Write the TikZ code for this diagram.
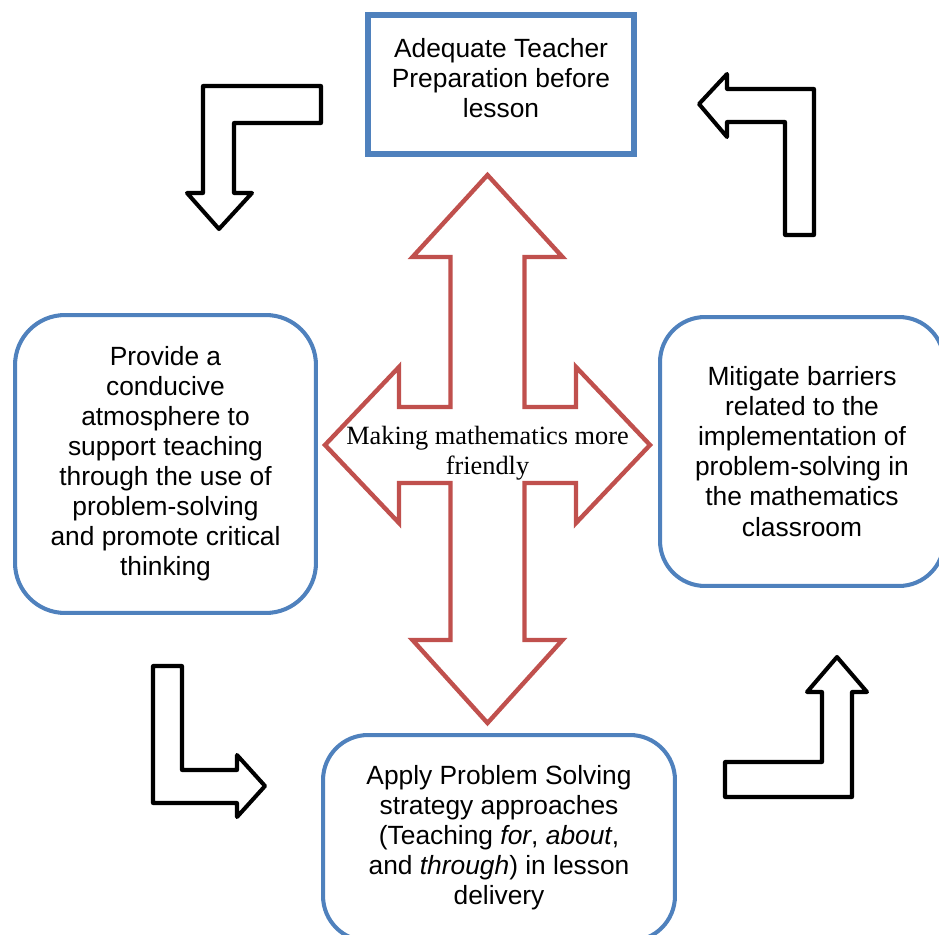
\documentclass[tikz,border=0pt]{standalone}
\usepackage{fontspec}
\setmainfont{Liberation Sans}
\newfontfamily\serifface{Liberation Serif}
\definecolor{boxblue}{RGB}{79,129,189}
\definecolor{crossred}{RGB}{192,80,77}

\begin{document}
\begin{tikzpicture}[x=0.02cm, y=-0.02cm,
  every node/.style={font={\fontsize{15}{17.1}\selectfont}, align=center, inner sep=0pt},
  goalbox/.style={draw=boxblue, line width=3.4pt, minimum width=5.32cm, minimum height=2.78cm, text depth=0.28cm},
  stagebox/.style={draw=boxblue, line width=2.3pt, rounded corners=0.9cm},
  turnarrow/.style={draw=black, line width=2.3pt, line join=round, fill=white},
  crossarrow/.style={draw=crossred, line width=2.5pt, line join=miter, fill=white}]
  \useasboundingbox (0,0) rectangle (939,935);
  \clip (0,0) rectangle (939,935);

  % the four stages
  \node[goalbox] (prep) at (501,84.5) {Adequate Teacher\\Preparation before\\lesson};
  \node[stagebox, minimum width=6.02cm, minimum height=5.96cm, rounded corners=1cm] (climate) at (165.5,464)
    {Provide a\\conducive\\atmosphere to\\support teaching\\through the use of\\problem-solving\\and promote critical\\thinking};
  \node[stagebox, minimum width=5.68cm, minimum height=5.38cm] (barriers) at (802,451.5)
    {Mitigate barriers\\related to the\\implementation of\\problem-solving in\\the mathematics\\classroom};
  \node[stagebox, minimum width=7.04cm, minimum height=4.12cm] (apply) at (499,838)
    {Apply Problem Solving\\strategy approaches\\(Teaching \textit{for}, \textit{about},\\and \textit{through}) in lesson\\delivery};

  % four-way arrow in the middle
  \draw[crossarrow] (487.5,175) -- (562.5,257) -- (524.5,257) -- (524.5,407) -- (576,407) -- (576,367)
    -- (650,445) -- (576,523) -- (576,483) -- (524.5,483) -- (524.5,640) -- (562.5,640)
    -- (487.5,723) -- (412.5,640) -- (450.5,640) -- (450.5,483) -- (399,483) -- (399,523)
    -- (325,445) -- (399,367) -- (399,407) -- (450.5,407) -- (450.5,257) -- (412.5,257) -- cycle;
  \node[font={\serifface\fontsize{15}{17.1}\selectfont}] (motto) at (487.5,453) {Making mathematics more\\friendly};

  % bent arrows between the stages
  \draw[turnarrow] (203,86) -- (321,86) -- (321,123) -- (234,123) -- (234,193) -- (252,193) -- (219,229) -- (187,193) -- (203,193) -- cycle;
  \draw[turnarrow] (699,104) -- (727,74) -- (727,89) -- (814,89) -- (814,235) -- (785,235) -- (785,122) -- (727,122) -- (727,137) -- cycle;
  \draw[turnarrow] (153,666) -- (182,666) -- (182,770) -- (237,770) -- (237,755) -- (265,786) -- (237,817) -- (237,803) -- (153,803) -- cycle;
  \draw[turnarrow] (725,797) -- (725,762) -- (822,762) -- (822,692) -- (807,692) -- (837,657) -- (867,692) -- (852,692) -- (852,797) -- cycle;
\end{tikzpicture}
\end{document}
